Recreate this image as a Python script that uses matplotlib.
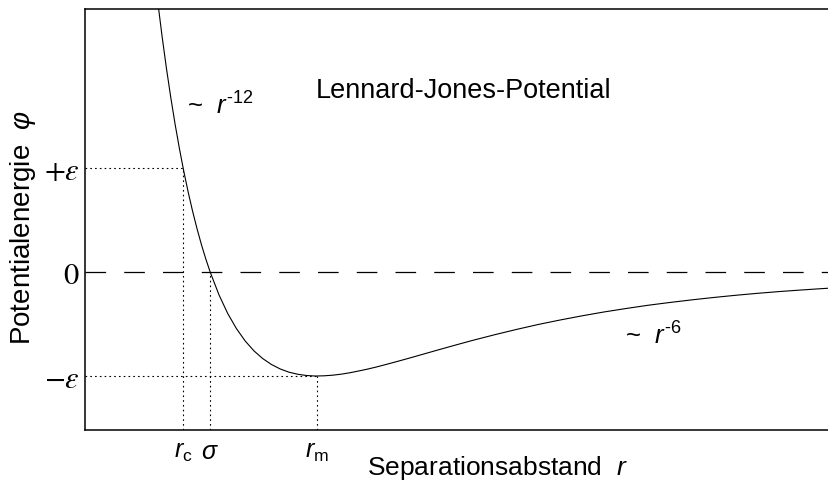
import matplotlib.pyplot as plt

plt.rcParams['font.family'] = ['Liberation Sans', 'DejaVu Sans']
plt.rcParams['mathtext.fontset'] = 'custom'
plt.rcParams['mathtext.rm'] = 'Liberation Sans'
plt.rcParams['mathtext.it'] = 'Liberation Sans:italic'

# separation r in units of sigma, potential phi in units of epsilon
r = [0.930, 0.935, 0.940, 0.945, 0.950, 0.955, 0.960, 0.965, 0.970,
     0.975, 0.980, 0.985, 0.990, 0.995, 1.000, 1.010, 1.020, 1.030,
     1.040, 1.050, 1.060, 1.070, 1.080, 1.090, 1.100, 1.110, 1.120,
     1.130, 1.140, 1.150, 1.160, 1.170, 1.180, 1.190, 1.200, 1.215,
     1.230, 1.245, 1.260, 1.280, 1.300, 1.325, 1.350, 1.375, 1.400,
     1.425, 1.450, 1.475, 1.500, 1.525, 1.550, 1.575, 1.600, 1.625,
     1.650, 1.675, 1.700, 1.710]
phi = [3.373, 2.973, 2.606, 2.270, 1.961, 1.678, 1.418, 1.181, 0.963,
       0.764, 0.582, 0.416, 0.264, 0.126, 0.000, -0.218, -0.398, -0.544,
       -0.663, -0.758, -0.832, -0.889, -0.932, -0.963, -0.983, -0.995,
       -1.000, -0.998, -0.992, -0.982, -0.968, -0.951, -0.933, -0.913,
       -0.891, -0.857, -0.822, -0.786, -0.750, -0.703, -0.657, -0.603,
       -0.552, -0.504, -0.461, -0.421, -0.384, -0.351, -0.320, -0.293,
       -0.268, -0.245, -0.224, -0.205, -0.188, -0.173, -0.159, -0.154]

eps = 1.0
r_c, sigma, r_m = 0.969, 1.0, 1.122
x_ticks = [r_c, sigma, r_m]
x_labels = [r'$r_\mathrm{c}$', r'$\sigma$', r'$r_\mathrm{m}$']
y_ticks = [-eps, 0, eps]
y_labels = [r'$-\varepsilon$', r'$0$', r'$+\varepsilon$']

xmin, xmax = 0.857, 1.707
ymin, ymax = -1.519, 2.529

fig = plt.figure(figsize=(8.29, 4.84), dpi=100)
ax = fig.add_axes([85 / 829, 1 - 430 / 484, 744 / 829, 421 / 484])
ax.set_xlim(xmin, xmax)
ax.set_ylim(ymin, ymax)

ax.plot(r, phi, color='black', lw=0.8)
ax.axhline(0, color='black', lw=0.9, dashes=(16.5, 14.5))

# dotted guides to the marked points
dot = dict(color='black', lw=0.8, dashes=(1.5, 2.8))
ax.plot([xmin, r_c], [eps, eps], **dot)
ax.plot([r_c, r_c], [ymin, eps], **dot)
ax.plot([sigma, sigma], [ymin, 0], **dot)
ax.plot([xmin, r_m], [-eps, -eps], **dot)
ax.plot([r_m, r_m], [ymin, -eps], **dot)

ax.set_xticks(x_ticks)
ax.set_xticklabels(x_labels, fontsize=18)
ax.set_yticks(y_ticks)
ax.set_yticklabels(y_labels, fontsize=22)
for lab in ax.get_yticklabels():
    lab.set_math_fontfamily('stix')
ax.tick_params(length=0)
ax.tick_params(axis='x', pad=7)
ax.tick_params(axis='y', pad=4)

ax.spines['right'].set_visible(False)
for s in ['left', 'bottom', 'top']:
    ax.spines[s].set_linewidth(1.1)

ax.set_xlabel(r'Separationsabstand  $r$', fontsize=19)
ax.xaxis.set_label_coords(0.554, -0.056)
ax.set_ylabel(r'Potentialenergie  $\varphi$', fontsize=20)
ax.yaxis.set_label_coords(-0.063, 0.482)

ax.text(1.121, 1.673, 'Lennard-Jones-Potential', fontsize=19.5, va='baseline')
ax.text(0.974, 1.51, r'~  $r^{\text{-12}}$', fontsize=18.5, va='baseline')
ax.text(1.474, -0.70, r'~  $r^{\text{-6}}$', fontsize=18.5, va='baseline')

fig.savefig('out.png', dpi=100)
